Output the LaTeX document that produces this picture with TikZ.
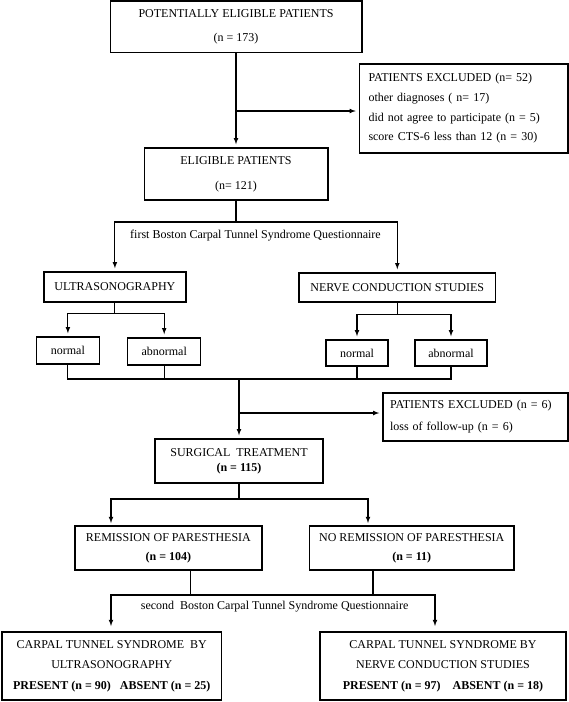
\documentclass[tikz,border=0pt]{standalone}
\usepackage{fontspec}
\setmainfont{Liberation Serif}
\newcommand\lsp[1]{\fontsize{12}{#1}\selectfont}
\begin{document}
\begin{tikzpicture}[x=1pt,y=-1pt,>=latex,
    box/.style={draw,line width=1.5pt,inner sep=0pt,align=center},
    exclbox/.style={box,align=left},
    conn/.style={line width=1.1pt},
    arr/.style={conn,->,shorten >=3pt},
    lbl/.style={inner sep=0pt,font=\lsp{14}}]
        \useasboundingbox (0,0) rectangle (569,702);

        % the boxes from top to bottom
        \node[box,minimum width=251.5pt,minimum height=51.5pt,font=\lsp{24}] (pot) at (236,26.5)
            {POTENTIALLY ELIGIBLE PATIENTS\\(n = 173)};
        \node[exclbox,inner xsep=9pt,text width=190.5pt,minimum height=89pt,font=\lsp{19.7}] (excl1) at (463.75,108.5)
            {PATIENTS EXCLUDED (n= 52)\\other diagnoses ( n= 17)\\did not agree to participate (n = 5)\\score CTS-6 less than 12 (n = 30)};
        \node[box,minimum width=183.5pt,minimum height=52pt,font=\lsp{25}] (elig) at (236,174)
            {ELIGIBLE PATIENTS\\(n= 121)};
        \node[lbl] (quest1) at (255.5,236) {first Boston Carpal Tunnel Syndrome Questionnaire};

        \node[box,minimum width=142.2pt,minimum height=30pt,font=\lsp{14}] (us) at (114.9,287) {ULTRASONOGRAPHY};
        \node[box,minimum width=196.6pt,minimum height=29pt,font=\lsp{14}] (ncs) at (397.3,287.5) {NERVE CONDUCTION STUDIES};
        \node[box,minimum width=62.8pt,minimum height=27pt,font=\lsp{14}] (nrm1) at (67.9,350.5) {normal};
        \node[box,minimum width=73pt,minimum height=27pt,font=\lsp{14}] (abn1) at (164.2,351.5) {abnormal};
        \node[box,minimum width=62pt,minimum height=26pt,font=\lsp{14}] (nrm2) at (357,353) {normal};
        \node[box,minimum width=72pt,minimum height=26pt,font=\lsp{14}] (abn2) at (451,353) {abnormal};

        \node[exclbox,inner xsep=7pt,text width=171pt,minimum height=48pt,font=\lsp{22}] (excl2) at (475.5,417)
            {PATIENTS EXCLUDED (n = 6)\\loss of follow-up (n = 6)};
        \node[box,minimum width=168pt,minimum height=44pt,font=\lsp{15}] (surg) at (239,461)
            {SURGICAL\ \ TREATMENT\\\textbf{(n = 115)}};
        \node[box,minimum width=187.2pt,minimum height=44pt,font=\lsp{19}] (rem) at (168.4,548)
            {REMISSION OF PARESTHESIA\\\textbf{(n = 104)}};
        \node[box,minimum width=204.5pt,minimum height=44pt,font=\lsp{19}] (norem) at (411.75,548)
            {NO REMISSION OF PARESTHESIA\\\textbf{(n = 11)}};
        \node[lbl] (quest2) at (274.6,607) {second\ \ Boston Carpal Tunnel Syndrome Questionnaire};
        \node[box,minimum width=219.5pt,minimum height=68pt,font=\lsp{20.5}] (ctsus) at (111.75,666)
            {CARPAL TUNNEL SYNDROME\ \ BY\\ULTRASONOGRAPHY\\\textbf{PRESENT (n = 90)\ \ \ ABSENT (n = 25)}};
        \node[box,minimum width=246pt,minimum height=68pt,font=\lsp{20.5}] (ctsncs) at (443,666)
            {CARPAL TUNNEL SYNDROME BY\\NERVE CONDUCTION STUDIES\\\textbf{PRESENT (n = 97)\ \ \ \ ABSENT (n = 18)}};

        % the junctions
        \coordinate (b1) at (236,111);
        \coordinate (q1) at (236,222);
        \coordinate (m) at (239,379);
        \coordinate (b2) at (239,413);
        \coordinate (s1) at (239,499);
        \coordinate (r1) at (111,526);
        \coordinate (r2) at (368,526);
        \coordinate (t1) at (190.5,595);
        \coordinate (t2) at (373,595);
        \coordinate (c1) at (111,632);
        \coordinate (c2) at (435,632);

        % draw the connectors
        \draw[arr] (pot) -- (elig);
        \draw[arr] (b1) -- (b1 -| excl1.west);
        \draw[conn] (elig) -- (q1);
        \draw[arr] (q1) -| (us);
        \draw[arr] (q1) -| (ncs);

        \draw[conn] (us.south) -- ++(0,11) coordinate (u1);
        \draw[arr] (u1) -| (nrm1);
        \draw[arr] (u1) -| (abn1);
        \draw[conn] (ncs.south) -- ++(0,12) coordinate (v1);
        \draw[arr] (v1) -| (nrm2);
        \draw[arr] (v1) -| (abn2);

        \foreach \b in {nrm1,abn1,nrm2,abn2}
                \draw[conn] (\b) |- (m);
        \draw[arr] (m) -- (surg);
        \draw[arr] (b2) -- (b2 -| excl2.west);

        \draw[conn] (surg) -- (s1);
        \draw[arr] (s1) -| (r1);
        \draw[arr] (s1) -| (r2);

        \draw[conn] (rem.south -| t1) -- (t1);
        \draw[conn] (norem.south -| t2) -- (t2);
        \draw[conn] (t1) -- (t2);
        \draw[arr,shorten >=6pt] (t1) -| (c1);
        \draw[arr,shorten >=6pt] (t2) -| (c2);
\end{tikzpicture}
\end{document}
